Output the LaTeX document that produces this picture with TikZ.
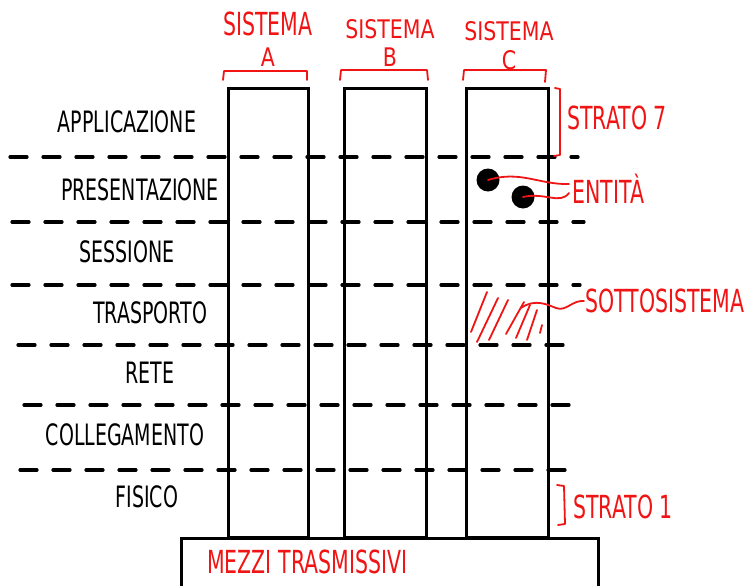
\documentclass[tikz,border=0pt]{standalone}
\usepackage{fontspec}
\setmainfont{DejaVu Sans}
\usepackage{graphicx}
\newcommand{\tall}[1]{\scalebox{1}[1.55]{#1}}
\newcommand{\squat}[1]{\scalebox{1}[1.25]{#1}}
\definecolor{pen}{RGB}{240,20,20}
\tikzset{
  column/.style={draw=black, line width=3pt, minimum width=#1, inner sep=0pt},
  layerlbl/.style={font=\fontsize{19}{19}\selectfont, text=black, inner sep=1pt},
  redlbl/.style={font=\fontsize{20.5}{20.5}\selectfont, text=pen, inner sep=1pt},
  divider/.style={line width=3.2pt, dash pattern=on 17pt off 16pt, line cap=round},
  redpen/.style={draw=pen, line width=1.8pt, line cap=round, line join=round},
  entity/.style={circle, fill=black, minimum size=23pt, inner sep=0pt},
}
\begin{document}
\begin{tikzpicture}[x=1pt, y=-1pt]
\useasboundingbox (0,0) rectangle (747,586);
\begin{scope}
\clip (0,0) rectangle (747,586);

% transmission media slab
\node[draw, line width=3pt, minimum width=417pt, minimum height=60pt, inner sep=0pt, anchor=north west] (media) at (180,537) {};
\node[redlbl, anchor=west] (mediatxt) at (206,562) {\tall{MEZZI TRASMISSIVI}};

% the three system columns
\node[column=80pt, minimum height=449pt] (colA) at (268,312.5) {};
\node[column=82pt, minimum height=449pt] (colB) at (385,312.5) {};
\node[column=82pt, minimum height=449pt] (colC) at (507,312.5) {};

% layer boundaries
\coordinate (d1l) at (10,157);  \coordinate (d1r) at (578,157);
\coordinate (d2l) at (12,222);  \coordinate (d2r) at (584,222);
\coordinate (d3l) at (12,285);  \coordinate (d3r) at (580,285);
\coordinate (d4l) at (18,345);  \coordinate (d4r) at (568,345);
\coordinate (d5l) at (24,405);  \coordinate (d5r) at (572,405);
\coordinate (d6l) at (20,470);  \coordinate (d6r) at (572,470);
\foreach \i in {1,...,6} \draw[divider] (d\i l) -- (d\i r);

% layer names
\node[layerlbl] (l7) at (127,122) {\tall{APPLICAZIONE}};
\node[layerlbl] (l6) at (140,190) {\tall{PRESENTAZIONE}};
\node[layerlbl] (l5) at (127,252) {\tall{SESSIONE}};
\node[layerlbl] (l4) at (150,313) {\tall{TRASPORTO}};
\node[layerlbl] (l3) at (150,373) {\tall{RETE}};
\node[layerlbl] (l2) at (125,435) {\tall{COLLEGAMENTO}};
\node[layerlbl] (l1) at (147,497) {\tall{FISICO}};

% system captions and braces
\node[redlbl] (sA) at (268,24) {\tall{SISTEMA}};
\node[redlbl] (sAl) at (268,57) {\squat{A}};
\node[redlbl] (sB) at (390,29) {\squat{SISTEMA}};
\node[redlbl] (sBl) at (390,57) {\squat{B}};
\node[redlbl] (sC) at (509,31) {\squat{SISTEMA}};
\node[redlbl] (sCl) at (509,60) {\squat{C}};
\draw[redpen] (223,80) -- (224,71) -- (307,71) -- (307,80);
\draw[redpen] (340,80) -- (341,70) -- (427,70) -- (428,80);
\draw[redpen] (463,80) -- (464,70) -- (546,70) -- (545,82);

% layer 7 / layer 1 brackets
\node[redlbl, anchor=west] (s7) at (566,118) {\tall{STRATO 7}};
\draw[redpen] (555,88) -- (560,89) -- (560,155) -- (554,156);
\node[redlbl, anchor=west] (s1) at (572,507) {\tall{STRATO 1}};
\draw[redpen] (557,485) -- (564,486) -- (565,524) -- (558,525);

% entities
\node[entity] (e1) at (488,180) {};
\node[entity] (e2) at (523,197) {};
\node[redlbl, anchor=west] (ent) at (571,189) {\tall{ENTITÀ}};
\draw[redpen] (e1.center) .. controls (520,170) and (540,185) .. (569,184);
\draw[redpen] (e2.center) .. controls (545,192) and (560,205) .. (569,193);

% subsystem hatching
\node[redlbl, anchor=west] (sub) at (584,301) {\tall{SOTTOSISTEMA}};
\draw[redpen] (471,332) -- (487,292);
\draw[redpen] (477,342) -- (498,298);
\draw[redpen] (489,340) -- (508,300);
\draw[redpen] (506,334) -- (524,302);
\draw[redpen] (516,338) -- (530,305);
\draw[redpen] (527,340) -- (537,310);
\draw[redpen] (540,333) -- (542,325);
\coordinate (subtip) at (521,308);
\draw[redpen] (subtip) .. controls (535,298) and (548,305) .. (556,308) .. controls (566,312) and (572,300) .. (sub.west);
\end{scope}
\end{tikzpicture}
\end{document}
